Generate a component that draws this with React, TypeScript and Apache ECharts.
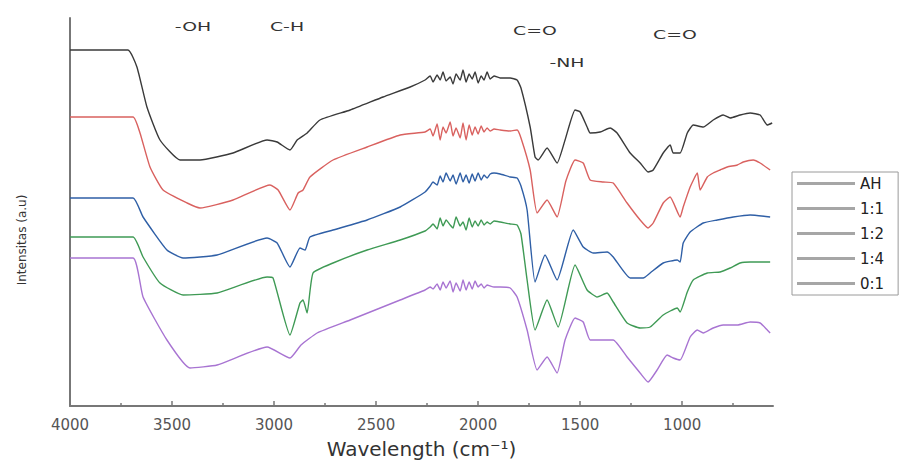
import React, { useEffect, useRef } from "react";
import * as echarts from "echarts";

const seriesNames = ["AH", "1:1", "1:2", "1:4", "0:1"];

const xMajorTicks = [4000, 3500, 3000, 2500, 2000, 1500, 1000];
const xMinorTicks = [3750, 3250, 2750, 2250, 1750, 1250, 750];

const ahData = [
  [4000, 356], [3716, 356], [3672, 339], [3623, 299], [3559, 266], [3461, 246], [3363, 246], [3201, 253],
  [3034, 266], [2985, 264], [2922, 256], [2887, 266], [2838, 273], [2775, 286], [2627, 296], [2466, 309],
  [2333, 319], [2260, 326], [2235, 330], [2221, 324], [2201, 331], [2186, 326], [2172, 334], [2157, 325],
  [2137, 329], [2123, 322], [2108, 332], [2088, 326], [2074, 336], [2059, 324], [2044, 332], [2029, 327],
  [2015, 334], [2000, 323], [1985, 330], [1971, 326], [1956, 334], [1941, 327], [1922, 330], [1892, 328],
  [1843, 328], [1809, 326], [1790, 318], [1745, 279], [1721, 249], [1706, 246], [1662, 258], [1613, 243],
  [1574, 266], [1525, 296], [1500, 294], [1466, 279], [1451, 273], [1402, 274], [1353, 278], [1319, 273],
  [1255, 253], [1206, 243], [1167, 234], [1142, 236], [1093, 253], [1059, 261], [1044, 253], [1010, 253],
  [975, 273], [946, 281], [897, 279], [848, 286], [799, 291], [765, 288], [716, 291], [667, 293],
  [618, 291], [583, 281], [559, 283],
];

const r11Data = [
  [4000, 289], [3691, 289], [3657, 273], [3608, 239], [3544, 216], [3426, 203], [3363, 198], [3201, 206],
  [3020, 221], [2980, 216], [2922, 196], [2882, 213], [2858, 216], [2824, 229], [2711, 246], [2544, 259],
  [2382, 271], [2260, 274], [2235, 277], [2221, 270], [2201, 282], [2186, 266], [2172, 279], [2157, 273],
  [2137, 284], [2123, 270], [2108, 278], [2088, 268], [2074, 283], [2059, 266], [2044, 281], [2029, 271],
  [2015, 279], [2000, 272], [1985, 280], [1971, 274], [1956, 278], [1941, 275], [1922, 277], [1892, 276],
  [1843, 275], [1809, 276], [1790, 268], [1745, 236], [1711, 193], [1662, 206], [1613, 189], [1570, 225],
  [1525, 246], [1485, 243], [1451, 226], [1387, 224], [1338, 223], [1270, 203], [1206, 186], [1167, 178],
  [1142, 183], [1093, 203], [1059, 209], [1010, 189], [995, 199], [961, 219], [926, 233], [912, 216],
  [877, 229], [848, 233], [814, 236], [779, 239], [730, 241], [701, 244], [652, 246], [618, 243],
  [569, 236],
];

const r12Data = [
  [4000, 208], [3691, 208], [3642, 189], [3525, 156], [3446, 148], [3279, 151], [3034, 168], [2985, 163],
  [2922, 139], [2873, 158], [2848, 156], [2824, 169], [2711, 176], [2544, 186], [2382, 199], [2260, 214],
  [2235, 220], [2221, 224], [2201, 221], [2186, 230], [2172, 224], [2157, 233], [2137, 225], [2123, 231],
  [2108, 222], [2088, 233], [2074, 224], [2059, 231], [2044, 223], [2029, 232], [2015, 225], [2000, 233],
  [1985, 226], [1971, 231], [1956, 228], [1941, 232], [1922, 233], [1892, 232], [1843, 229], [1809, 228],
  [1790, 220], [1760, 196], [1721, 124], [1672, 151], [1613, 126], [1534, 176], [1485, 159], [1436, 153],
  [1368, 154], [1338, 149], [1255, 128], [1191, 128], [1157, 133], [1093, 143], [1024, 146], [1010, 144],
  [995, 163], [961, 174], [897, 183], [828, 186], [750, 189], [667, 191], [569, 189],
];

const r14Data = [
  [4000, 169], [3691, 169], [3642, 149], [3559, 123], [3446, 111], [3279, 113], [3034, 129], [3005, 128],
  [2922, 71], [2873, 103], [2858, 106], [2838, 93], [2809, 133], [2711, 143], [2544, 156], [2382, 166],
  [2260, 175], [2235, 179], [2221, 182], [2201, 177], [2186, 188], [2172, 180], [2157, 186], [2137, 181],
  [2123, 178], [2108, 189], [2088, 180], [2074, 184], [2059, 176], [2044, 188], [2029, 179], [2015, 185],
  [2000, 180], [1985, 186], [1971, 181], [1956, 184], [1941, 182], [1922, 185], [1892, 184], [1843, 182],
  [1809, 181], [1790, 172], [1760, 126], [1721, 76], [1662, 106], [1608, 79], [1525, 141], [1466, 116],
  [1417, 109], [1368, 113], [1338, 104], [1270, 83], [1206, 78], [1157, 79], [1093, 91], [1024, 98],
  [1010, 94], [975, 114], [946, 126], [877, 133], [814, 134], [765, 138], [716, 143], [667, 144],
  [569, 144],
];

const r01Data = [
  [4000, 148], [3691, 148], [3642, 109], [3525, 66], [3412, 38], [3279, 41], [3034, 59], [2922, 48],
  [2868, 61], [2789, 73], [2627, 86], [2382, 106], [2260, 116], [2235, 119], [2221, 117], [2201, 122],
  [2186, 116], [2172, 124], [2157, 118], [2137, 125], [2123, 114], [2108, 123], [2088, 115], [2074, 126],
  [2059, 116], [2044, 124], [2029, 117], [2015, 125], [2000, 119], [1985, 122], [1971, 118], [1956, 121],
  [1941, 120], [1922, 119], [1892, 119], [1843, 118], [1809, 109], [1760, 76], [1711, 36], [1662, 49],
  [1613, 33], [1574, 66], [1525, 88], [1485, 84], [1451, 66], [1387, 66], [1338, 66], [1270, 49],
  [1206, 33], [1167, 24], [1123, 36], [1074, 51], [1044, 48], [1010, 46], [961, 69], [926, 76],
  [897, 73], [848, 78], [799, 81], [730, 81], [667, 84], [618, 83], [583, 76], [569, 73],
];

const allData = [ahData, r11Data, r12Data, r14Data, r01Data];
const seriesColors = ["#3a3a3a", "#d9615f", "#2f5fa6", "#3f9a55", "#a874d2"];

const bandLabels = ["-OH", "C-H", "C=O", "-NH", "C=O"];
const bandLabelPos = [
  [193, 27], [287, 27], [535, 31], [567, 63], [675, 35],
];

export default function App() {
  const ref = useRef<HTMLDivElement>(null);
  useEffect(() => {
    if (!ref.current) return;
    const chart = echarts.init(ref.current, undefined, { renderer: "svg" });
    const font = "DejaVu Sans";
    chart.setOption({
      animation: false,
      backgroundColor: "#ffffff",
      grid: { left: 70, right: 128, top: 18, bottom: 61 },
      legend: {
        orient: "vertical",
        left: 792,
        top: 172,
        itemWidth: 58,
        itemHeight: 3,
        itemGap: 10,
        padding: [4, 14, 4, 5],
        borderColor: "#9a9a9a",
        borderWidth: 1,
        icon: "rect",
        itemStyle: { color: "#a6a6a6" },
        textStyle: { fontFamily: font, fontSize: 15, color: "#222", padding: [0, 0, 0, 0] },
        data: seriesNames.map((n) => ({ name: n, icon: "rect", itemStyle: { color: "#a6a6a6" } })),
      },
      xAxis: [
        {
          type: "value",
          inverse: true,
          min: 555,
          max: 4000,
          name: "Wavelength (cm⁻¹)",
          nameLocation: "middle",
          nameGap: 33,
          nameTextStyle: { fontFamily: font, fontSize: 20, color: "#333" },
          axisLine: { show: true, lineStyle: { color: "#777", width: 2 } },
          axisTick: { show: true, inside: true, length: 5, customValues: xMajorTicks, lineStyle: { color: "#777", width: 1.5 } },
          axisLabel: {
            show: true,
            customValues: xMajorTicks,
            margin: 11,
            fontFamily: font,
            fontSize: 15,
            color: "#555",
            formatter: (v: number) => String(v),
          },
          splitLine: { show: false },
        },
        {
          type: "value",
          inverse: true,
          min: 555,
          max: 4000,
          position: "bottom",
          axisLine: { show: false },
          axisTick: { show: true, inside: true, length: 3, customValues: xMinorTicks, lineStyle: { color: "#777", width: 1.5 } },
          axisLabel: { show: false },
          splitLine: { show: false },
        },
      ],
      yAxis: {
        type: "value",
        min: 0,
        max: 388,
        axisLine: { show: true, lineStyle: { color: "#777", width: 2 } },
        axisTick: { show: false },
        axisLabel: { show: false },
        splitLine: { show: false },
      },
      series: allData.map((d, i) => ({
        name: seriesNames[i],
        type: "line",
        data: d,
        symbol: "none",
        showSymbol: false,
        smooth: 0.15,
        lineStyle: { color: seriesColors[i], width: 1.4 },
        itemStyle: { color: seriesColors[i] },
      })),
      graphic: [
        {
          type: "text",
          x: 22,
          y: 240,
          rotation: Math.PI / 2,
          style: {
            text: "Intensitas (a.u)",
            fontFamily: font,
            fontSize: 12,
            fill: "#333",
            textAlign: "center",
            textVerticalAlign: "middle",
          },
        },
        ...bandLabels.map((t, i) => ({
          type: "text",
          x: bandLabelPos[i][0],
          y: bandLabelPos[i][1],
          scaleX: 1.45,
          style: {
            text: t,
            fontFamily: font,
            fontSize: 13,
            fill: "#333",
            textAlign: "center",
            textVerticalAlign: "middle",
          },
        })),
      ],
    });
    return () => chart.dispose();
  }, []);
  return (
    <div
      ref={ref}
      style={{ position: "fixed", left: 0, top: 0, width: 901, height: 467 }}
    />
  );
}
